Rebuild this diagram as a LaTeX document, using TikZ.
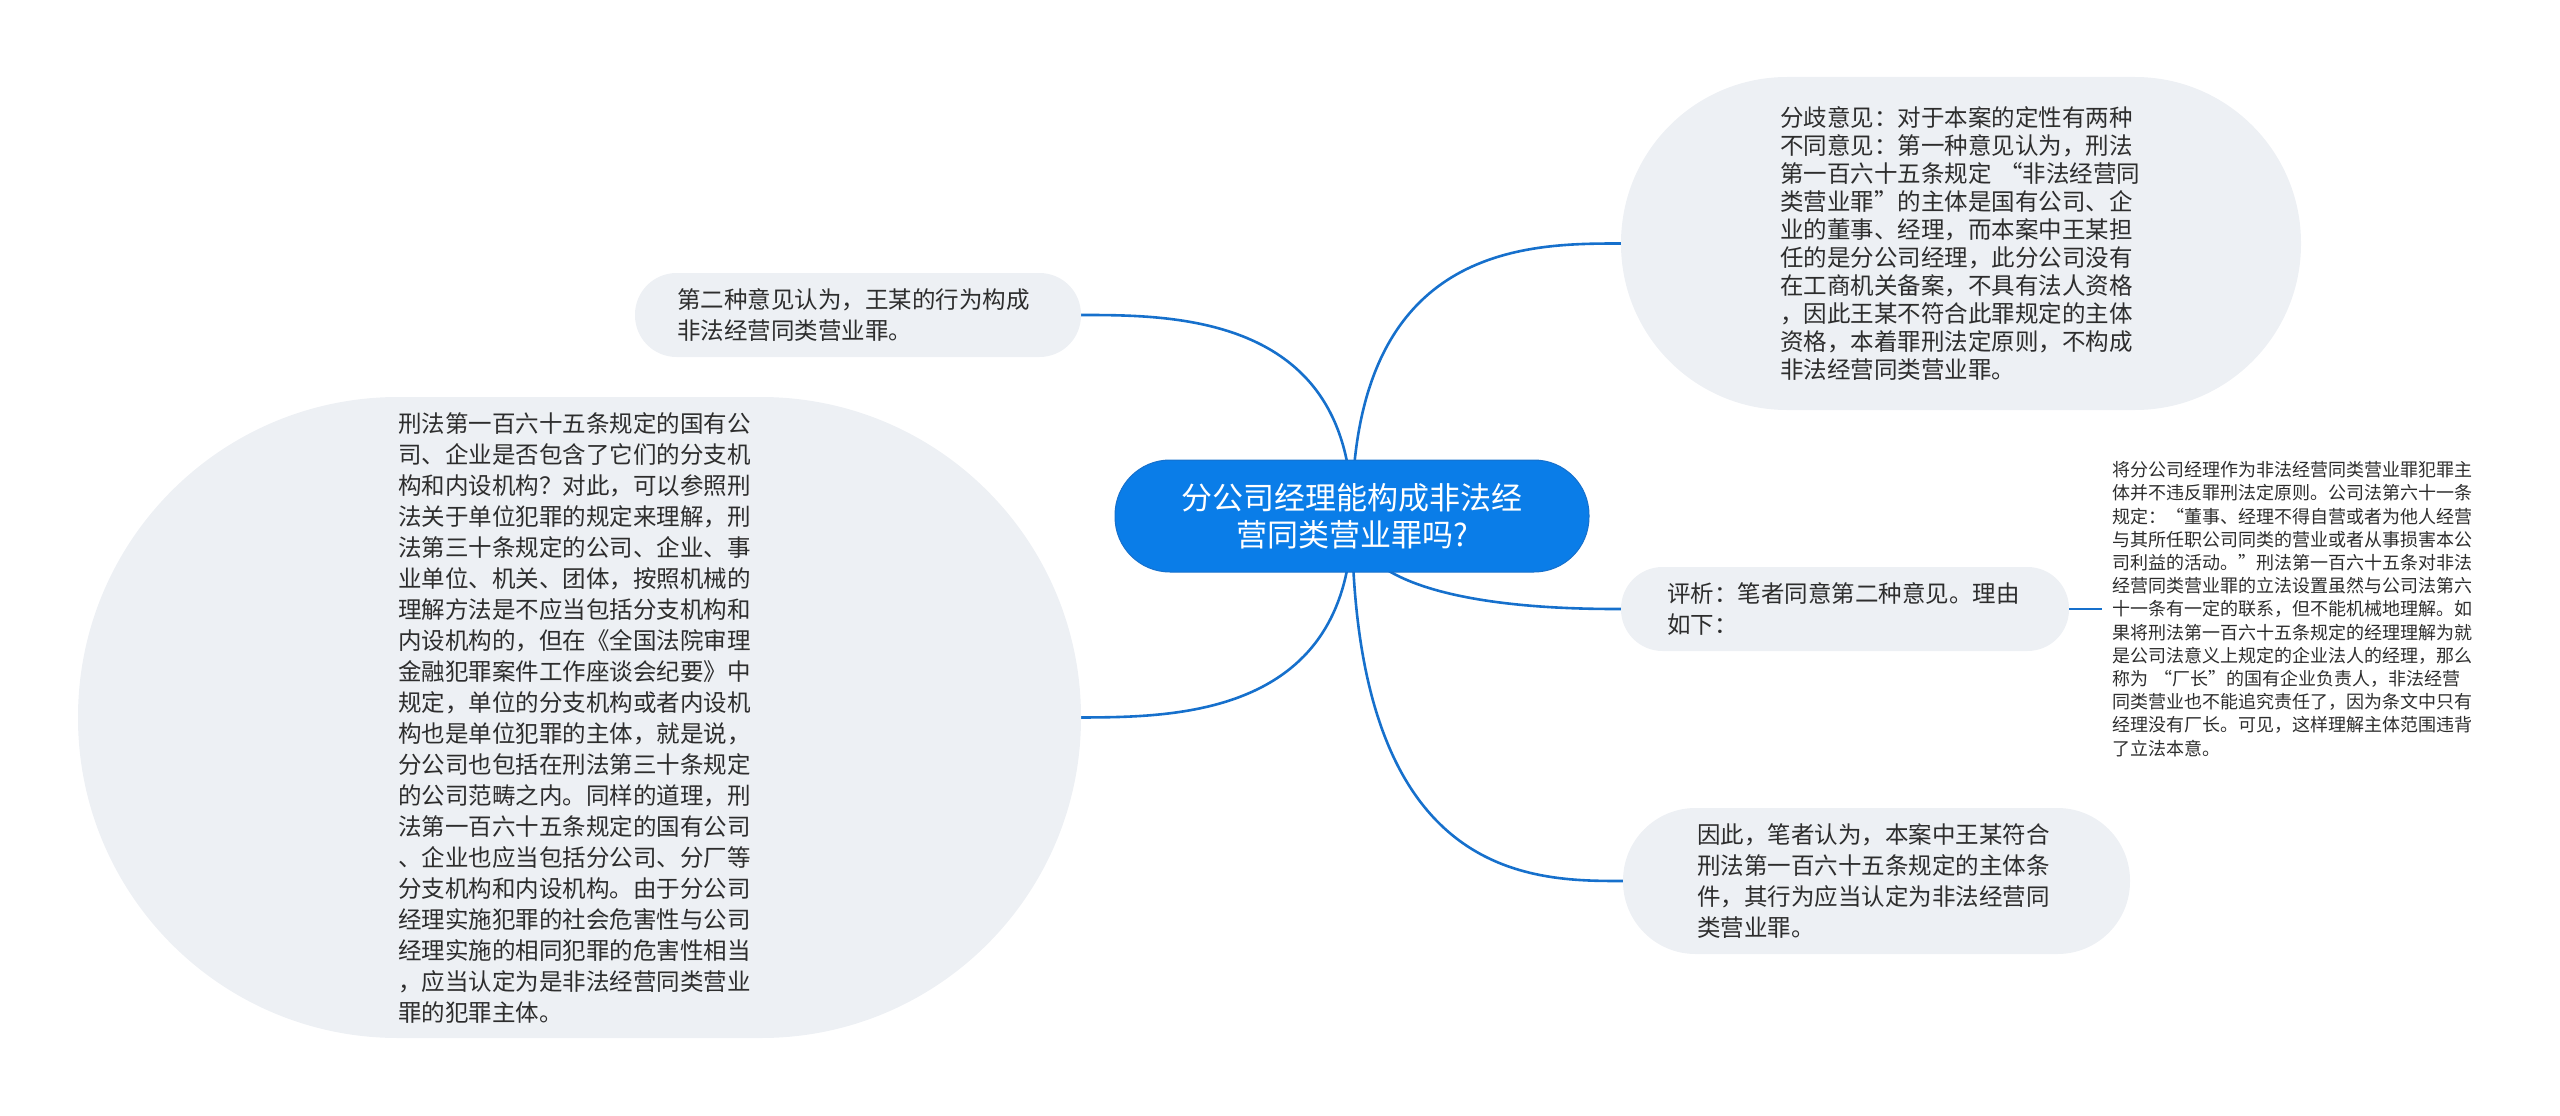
\documentclass[tikz,border=0pt]{standalone}
\usepackage{fontspec}
\setmainfont{Noto Sans CJK SC}
\usetikzlibrary{backgrounds}

\definecolor{rootblue}{RGB}{10,125,232}
\definecolor{lineblue}{RGB}{22,112,204}
\definecolor{leafgrey}{RGB}{237,240,244}
\definecolor{inkgrey}{RGB}{45,45,45}

\begin{document}
\begin{tikzpicture}[x=1pt,y=-1pt,
			    root/.style={fill=rootblue,draw=lineblue,line width=1pt,text=white,align=center,inner sep=0pt,
			        minimum width=474pt,minimum height=112pt,rounded corners=55pt,font=\fontsize{31}{37}\selectfont},
			    leaf/.style={fill=leafgrey,text=inkgrey,align=left,inner ysep=0pt,font=\fontsize{23.5}{31}\selectfont},
			    note/.style={text=inkgrey,align=left,inner ysep=0pt,inner xsep=10pt,text width=362pt,font=\fontsize{18}{23.2}\selectfont},
			    edge/.style={draw=lineblue,line width=2.6pt},
			]
	    \useasboundingbox (0,0) rectangle (2560,1116);

	    %root
	    \node[root] (root) at (1352,516) {分公司经理能构成非法经\\营同类营业罪吗?};

	    %left side
	    \node[leaf,minimum width=446pt,minimum height=84pt,inner xsep=42pt,text width=362pt,rounded corners=41.5pt] (second) at (858,315)
	        {第二种意见认为，王某的行为构成\\非法经营同类营业罪。};
	    \node[leaf,minimum width=1003pt,minimum height=641pt,inner xsep=320pt,text width=363pt,rounded corners=320pt] (scope) at (579.5,717.5)
	        {刑法第一百六十五条规定的国有公\\司、企业是否包含了它们的分支机\\构和内设机构？对此，可以参照刑\\法关于单位犯罪的规定来理解，刑\\法第三十条规定的公司、企业、事\\业单位、机关、团体，按照机械的\\理解方法是不应当包括分支机构和\\内设机构的，但在《全国法院审理\\金融犯罪案件工作座谈会纪要》中\\规定，单位的分支机构或者内设机\\构也是单位犯罪的主体，就是说，\\分公司也包括在刑法第三十条规定\\的公司范畴之内。同样的道理，刑\\法第一百六十五条规定的国有公司\\、企业也应当包括分公司、分厂等\\分支机构和内设机构。由于分公司\\经理实施犯罪的社会危害性与公司\\经理实施的相同犯罪的危害性相当\\，应当认定为是非法经营同类营业\\罪的犯罪主体。};

	    %right side
	    \node[leaf,minimum width=680pt,minimum height=333pt,inner xsep=159pt,text width=362pt,rounded corners=166pt,
	        font=\fontsize{23.5}{28}\selectfont] (dispute) at (1961,243.5)
	        {分歧意见：对于本案的定性有两种\\不同意见：第一种意见认为，刑法\\第一百六十五条规定 “非法经营同\\类营业罪”的主体是国有公司、企\\业的董事、经理，而本案中王某担\\任的是分公司经理，此分公司没有\\在工商机关备案，不具有法人资格\\，因此王某不符合此罪规定的主体\\资格，本着罪刑法定原则，不构成\\非法经营同类营业罪。};
	    \node[leaf,minimum width=448pt,minimum height=84pt,inner xsep=46pt,text width=356pt,rounded corners=41.5pt] (review) at (1845,609)
	        {评析：笔者同意第二种意见。理由\\如下：};
	    \node[note] (reason) at (2293,609)
	        {将分公司经理作为非法经营同类营业罪犯罪主\\体并不违反罪刑法定原则。公司法第六十一条\\规定：“董事、经理不得自营或者为他人经营\\与其所任职公司同类的营业或者从事损害本公\\司利益的活动。”刑法第一百六十五条对非法\\经营同类营业罪的立法设置虽然与公司法第六\\十一条有一定的联系，但不能机械地理解。如\\果将刑法第一百六十五条规定的经理理解为就\\是公司法意义上规定的企业法人的经理，那么\\称为 “厂长”的国有企业负责人，非法经营\\同类营业也不能追究责任了，因为条文中只有\\经理没有厂长。可见，这样理解主体范围违背\\了立法本意。};
	    \node[leaf,minimum width=507pt,minimum height=146pt,inner xsep=74pt,text width=359pt,rounded corners=72.5pt] (verdict) at (1876.5,881)
	        {因此，笔者认为，本案中王某符合\\刑法第一百六十五条规定的主体条\\件，其行为应当认定为非法经营同\\类营业罪。};

	    %branches
	    \begin{pgfonlayer}{background}
	    \draw [edge] (root.center) .. controls (1352,315) and (1175,315) .. (second.east);
	    \draw [edge] (root.center) .. controls (1352,717) and (1175,717) .. (scope.east);
	    \draw [edge] (root.center) .. controls (1352,243.5) and (1527,243.5) .. (dispute.west);
	    \draw [edge] (root.center) .. controls (1352,609) and (1570,609) .. (review.west);
	    \draw [edge] (root.center) .. controls (1352,881) and (1530,881) .. (verdict.west);
	    \end{pgfonlayer}

	    %note
	    \draw [edge] (review.east) -- (reason.west);
	\end{tikzpicture}
\end{document}
